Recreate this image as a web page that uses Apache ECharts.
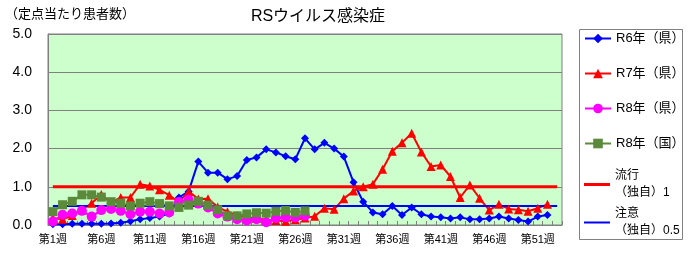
<!DOCTYPE html>
<html>
<head>
<meta charset="utf-8">
<script src="https://cdn.jsdelivr.net/npm/echarts@6/dist/echarts.min.js"></script>
<style>
    html, body { margin: 0; padding: 0; background: #fff; }
    #rsChart { width: 690px; height: 253px; }
</style>
</head>
<body>
<div id="rsChart"></div>
<script>
// 週ラベル（第1週〜第53週）
var weeks = ['第1週', '第2週', '第3週', '第4週', '第5週', '第6週', '第7週', '第8週', '第9週', '第10週',
    '第11週', '第12週', '第13週', '第14週', '第15週', '第16週', '第17週', '第18週', '第19週', '第20週',
    '第21週', '第22週', '第23週', '第24週', '第25週', '第26週', '第27週', '第28週', '第29週', '第30週',
    '第31週', '第32週', '第33週', '第34週', '第35週', '第36週', '第37週', '第38週', '第39週', '第40週',
    '第41週', '第42週', '第43週', '第44週', '第45週', '第46週', '第47週', '第48週', '第49週', '第50週',
    '第51週', '第52週', '第53週'];

// R6年（県）
var r6Pref = [0.02, 0.02, 0.03, 0.03, 0.03, 0.03, 0.04, 0.06, 0.10, 0.15,
    0.18, 0.22, 0.30, 0.72, 0.88, 1.66, 1.37, 1.37, 1.20, 1.28,
    1.70, 1.77, 1.98, 1.90, 1.80, 1.72, 2.27, 1.98, 2.15, 2.00,
    1.79, 1.12, 0.61, 0.33, 0.28, 0.50, 0.26, 0.46, 0.28, 0.22,
    0.20, 0.17, 0.20, 0.15, 0.15, 0.17, 0.22, 0.17, 0.13, 0.09,
    0.22, 0.26];

// R7年（県）
var r7Pref = [0.18, 0.15, 0.25, 0.40, 0.57, 0.80, 0.58, 0.72, 0.72, 1.07,
    1.02, 0.92, 0.78, 0.60, 0.88, 0.68, 0.69, 0.47, 0.35, 0.25,
    0.20, 0.17, 0.14, 0.12, 0.10, 0.14, 0.18, 0.23, 0.44, 0.41,
    0.69, 0.89, 1.00, 1.07, 1.46, 1.93, 2.15, 2.40, 1.91, 1.53,
    1.57, 1.27, 0.72, 1.05, 0.70, 0.39, 0.54, 0.42, 0.40, 0.36,
    0.44, 0.54];

// R8年（県）
var r8Pref = [0.09, 0.27, 0.30, 0.37, 0.22, 0.39, 0.42, 0.37, 0.28, 0.35,
    0.35, 0.30, 0.33, 0.60, 0.66, 0.56, 0.46, 0.30, 0.22, 0.15,
    0.12, 0.15, 0.07, 0.18, 0.20, 0.20, 0.24];

// R8年（国）
var r8Nation = [0.35, 0.53, 0.62, 0.79, 0.79, 0.73, 0.61, 0.57, 0.50, 0.57,
    0.61, 0.56, 0.50, 0.46, 0.52, 0.62, 0.52, 0.40, 0.24, 0.24,
    0.29, 0.32, 0.31, 0.36, 0.38, 0.33, 0.37];

// 基準値（独自）
var ryukoLevel = 1.0;
var chuiLevel = 0.5;

var yTicks = [0, 1, 2, 3, 4, 5];

var fontFam = "'Liberation Sans', 'Noto Sans CJK JP', sans-serif";

var rsChart = echarts.init(document.getElementById('rsChart'));

var legendText = {
    color: '#000',
    fontSize: 13,
    lineHeight: 17,
    fontFamily: fontFam
};

// 2行表示の凡例（流行・注意）
var legendText2 = {
    color: '#000',
    fontSize: 12,
    lineHeight: 17,
    fontFamily: fontFam,
    padding: [17, 0, 0, 0]
};

var rsOption = {
    animation: false,
    title: [
        {
            text: 'RSウイルス感染症',
            left: 318,
            top: 9,
            padding: 0,
            textAlign: 'center',
            textStyle: { fontSize: 16, fontWeight: 'normal', color: '#000', fontFamily: fontFam }
        },
        {
            text: '（定点当たり患者数）',
            left: 5,
            top: 8,
            padding: 0,
            textStyle: { fontSize: 13, fontWeight: 'normal', color: '#000', fontFamily: fontFam }
        }
    ],
    legend: [
        {
            data: ['R6年（県）', 'R7年（県）', 'R8年（県）', 'R8年（国）'],
            orient: 'vertical',
            left: 584,
            top: 30,
            padding: 0,
            itemWidth: 26,
            itemHeight: 12,
            itemGap: 18,
            textStyle: legendText
        },
        {
            data: [{ name: '流行（独自）1', icon: 'rect' }],
            orient: 'vertical',
            left: 584,
            top: 159,
            padding: 0,
            itemWidth: 26,
            itemHeight: 3,
            formatter: function (name) { return name.replace('（', '\n（'); },
            textStyle: legendText2
        },
        {
            data: [{ name: '注意（独自）0.5', icon: 'rect' }],
            orient: 'vertical',
            left: 584,
            top: 197,
            padding: 0,
            itemWidth: 26,
            itemHeight: 2,
            formatter: function (name) { return name.replace('（', '\n（'); },
            textStyle: legendText2
        }
    ],
    graphic: [
        {
            type: 'rect',
            left: 577,
            top: 27,
            shape: { width: 103, height: 210 },
            style: { fill: 'none', stroke: '#808080', lineWidth: 1 },
            silent: true
        }
    ],
    grid: {
        left: 48,
        right: 128,
        top: 34,
        bottom: 28,
        show: true,
        backgroundColor: '#CCFFCC',
        borderColor: '#808080',
        borderWidth: 1
    },
    xAxis: {
        type: 'category',
        data: weeks,
        boundaryGap: true,
        axisLine: { lineStyle: { color: '#808080', width: 1 } },
        axisTick: { show: true, inside: true, interval: 0, length: 4, lineStyle: { color: '#808080' } },
        axisLabel: { interval: 4, color: '#000', fontSize: 11, margin: 9, fontFamily: fontFam },
        splitLine: { show: false }
    },
    yAxis: {
        type: 'value',
        min: yTicks[0],
        max: yTicks[yTicks.length - 1],
        interval: 1,
        axisLine: { show: true, lineStyle: { color: '#808080' } },
        axisTick: { show: false },
        axisLabel: {
            color: '#000',
            fontSize: 14,
            margin: 16,
            fontFamily: fontFam,
            formatter: function (v) { return v.toFixed(1); }
        },
        splitLine: { show: true, lineStyle: { color: '#808080', width: 1 } }
    },
    series: [
        {
            name: 'R6年（県）',
            type: 'line',
            data: r6Pref,
            color: '#0000FF',
            symbol: 'diamond',
            symbolSize: 8,
            showAllSymbol: true,
            lineStyle: { width: 2 }
        },
        {
            name: 'R7年（県）',
            type: 'line',
            data: r7Pref,
            color: '#FF0000',
            symbol: 'triangle',
            symbolSize: 9,
            showAllSymbol: true,
            lineStyle: { width: 2 }
        },
        {
            name: 'R8年（県）',
            type: 'line',
            data: r8Pref,
            color: '#FF00FF',
            symbol: 'circle',
            symbolSize: 10,
            showAllSymbol: true,
            lineStyle: { width: 2 }
        },
        {
            name: 'R8年（国）',
            type: 'line',
            data: r8Nation,
            color: '#5A8A3A',
            symbol: 'rect',
            symbolSize: 9,
            showAllSymbol: true,
            lineStyle: { width: 2 }
        },
        {
            name: '流行（独自）1',
            type: 'line',
            data: [[weeks[0], ryukoLevel], [weeks[weeks.length - 1], ryukoLevel]],
            color: '#FF0000',
            symbol: 'none',
            lineStyle: { width: 3 }
        },
        {
            name: '注意（独自）0.5',
            type: 'line',
            data: [[weeks[0], chuiLevel], [weeks[weeks.length - 1], chuiLevel]],
            color: '#0000FF',
            symbol: 'none',
            lineStyle: { width: 2 }
        }
    ]
};

rsChart.setOption(rsOption);
</script>
</body>
</html>
